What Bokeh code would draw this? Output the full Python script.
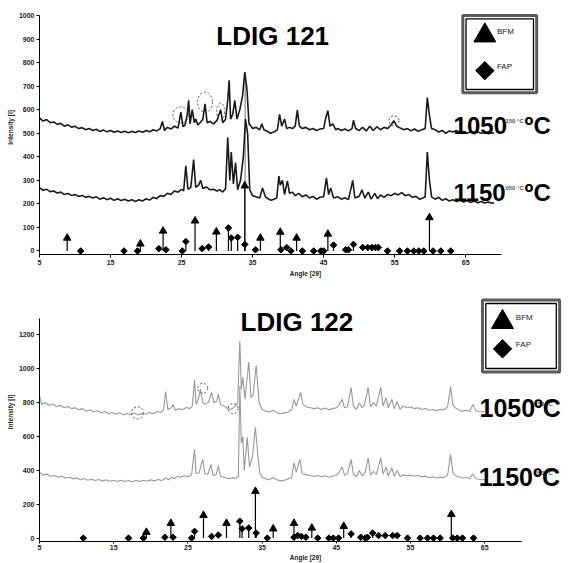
import math
from bokeh.plotting import figure
from bokeh.layouts import column
from bokeh.models import FixedTicker, Label
from bokeh.embed import file_html
from bokeh.resources import INLINE

# ---------------- data ----------------
x_tick_vals = [5, 15, 25, 35, 45, 55, 65]
y_ticks_121 = [0, 100, 200, 300, 400, 500, 600, 700, 800, 900, 1000]
y_ticks_122 = [0, 200, 400, 600, 800, 1000, 1200]

# LDIG 121, 1050 C pattern
t1050_x = [5.0, 5.5, 6.0, 6.5, 7.0, 7.5, 8.0, 8.5, 9.0, 9.5, 10.0, 10.5, 11.0, 11.5, 12.0, 12.5, 13.0, 13.5, 14.0, 14.5,
           15.0, 15.5, 16.0, 16.5, 17.0, 17.5, 18.0, 18.5, 19.0, 19.5, 20.0, 20.5, 21.0, 21.5, 22.0, 22.3, 22.6, 23.0, 23.5, 24.0,
           24.5, 24.9, 25.2, 25.5, 25.8, 26.0, 26.2, 26.5, 26.8, 27.0, 27.3, 27.6, 28.0, 28.3, 28.6, 29.0, 29.5, 30.0, 30.5, 30.8,
           31.2, 31.5, 31.7, 31.9, 32.2, 32.5, 32.8, 33.2, 33.6, 33.9, 34.2, 34.5, 35.0, 35.5, 36.0, 36.3, 36.6, 37.0, 37.5, 38.0,
           38.5, 38.8, 39.1, 39.5, 39.8, 40.2, 40.6, 41.0, 41.3, 41.6, 42.0, 42.5, 43.0, 43.5, 44.0, 44.5, 45.0, 45.3, 45.6, 45.9,
           46.3, 46.7, 47.0, 47.5, 48.0, 48.5, 49.0, 49.2, 49.5, 50.0, 50.5, 51.0, 51.5, 52.0, 52.5, 53.0, 53.5, 54.0, 54.5, 54.9,
           55.3, 55.8, 56.3, 56.8, 57.3, 57.8, 58.3, 58.8, 59.3, 59.6, 59.9, 60.2, 60.7, 61.2, 61.7, 62.2, 62.7, 63.2, 63.7, 64.2,
           64.7, 65.2, 65.7, 66.2, 66.7, 67.2, 67.7, 68.2, 68.7, 69.0]
t1050_y = [565, 552, 558, 545, 548, 538, 542, 530, 536, 526, 530, 520, 524, 515, 520, 512, 517, 508, 514, 506,
           512, 504, 510, 503, 509, 502, 508, 503, 510, 504, 512, 506, 515, 510, 520, 550, 512, 525, 518, 530,
           522, 590, 528, 535, 580, 640, 540, 600, 545, 560, 535, 545, 560, 625, 545, 550, 540, 555, 600, 545,
           560, 640, 725, 560, 580, 640, 560, 600, 660, 760, 690, 540, 520, 525, 515, 540, 515, 510, 500, 505,
           515, 580, 530, 560, 520, 525, 520, 530, 598, 530, 520, 525, 515, 520, 512, 518, 520, 565, 596, 530,
           540, 515, 520, 512, 518, 510, 520, 555, 520, 512, 525, 510, 530, 512, 528, 515, 525, 520, 535, 553,
           530, 522, 515, 520, 510, 518, 508, 515, 520, 652, 575, 520, 515, 505, 512, 500, 510, 505, 512, 502,
           508, 500, 506, 498, 505, 500, 503, 498, 502, 500]

# LDIG 121, 1150 C pattern
t1150_x = [5.0, 5.5, 6.0, 6.5, 7.0, 7.5, 8.0, 8.5, 9.0, 9.5, 10.0, 10.5, 11.0, 11.5, 12.0, 12.5, 13.0, 13.5, 14.0, 14.5,
           15.0, 15.5, 16.0, 16.5, 17.0, 17.5, 18.0, 18.5, 19.0, 19.5, 20.0, 20.5, 21.0, 21.5, 22.0, 22.5, 23.0, 23.5, 24.0, 24.5,
           25.0, 25.3, 25.6, 25.9, 26.3, 26.7, 27.0, 27.4, 27.7, 28.0, 28.5, 29.0, 29.5, 30.0, 30.4, 30.8, 31.2, 31.5, 31.8, 32.0,
           32.3, 32.6, 32.9, 33.3, 33.7, 34.0, 34.3, 34.6, 35.0, 35.5, 36.0, 36.4, 36.8, 37.2, 37.6, 38.0, 38.4, 38.7, 38.9, 39.2,
           39.5, 39.9, 40.2, 40.6, 41.0, 41.5, 42.0, 42.5, 43.0, 43.5, 44.0, 44.5, 45.0, 45.4, 45.7, 46.0, 46.4, 47.0, 47.5, 48.0,
           48.5, 49.1, 49.4, 50.0, 50.4, 50.8, 51.3, 51.7, 52.2, 52.6, 53.0, 53.5, 54.0, 54.5, 55.0, 55.5, 56.0, 56.5, 57.0, 57.5,
           58.0, 58.5, 59.0, 59.3, 59.6, 59.9, 60.2, 60.7, 61.2, 61.7, 62.2, 62.7, 63.2, 63.7, 64.2, 64.7, 65.2, 65.7, 66.2, 66.7,
           67.2, 67.7, 68.2, 68.7, 69.0]
t1150_y = [268, 258, 262, 252, 255, 246, 250, 240, 244, 236, 240, 232, 236, 228, 232, 225, 230, 220, 226, 218,
           224, 215, 222, 214, 220, 212, 218, 210, 218, 212, 222, 216, 228, 222, 235, 232, 245, 240, 255, 250,
           262, 255, 362, 262, 270, 388, 270, 280, 300, 265, 272, 260, 262, 255, 260, 250, 265, 482, 300, 420,
           285, 375, 260, 300, 400, 560, 500, 260, 235, 230, 225, 268, 230, 222, 215, 220, 225, 318, 280, 300,
           240, 298, 245, 250, 235, 245, 230, 238, 225, 232, 220, 228, 230, 310, 240, 268, 225, 230, 220, 226,
           218, 300, 225, 232, 260, 225, 250, 220, 245, 222, 238, 228, 240, 235, 245, 238, 248, 235, 240, 228,
           232, 220, 225, 230, 420, 300, 230, 220, 228, 215, 222, 212, 218, 210, 215, 208, 214, 206, 212, 205,
           210, 204, 208, 203, 205]

# LDIG 121 reference sticks
bfm_121_x = [8.9, 19.2, 22.4, 26.9, 29.9, 33.9, 36.1, 38.9, 41.2, 45.6, 59.9]
bfm_121_h = [55, 30, 85, 128, 81, 277, 55, 80, 55, 72, 142]
fap_121_x = [10.8, 16.9, 18.8, 21.8, 22.8, 25.1, 25.6, 27.9, 28.8, 31.6, 32.0, 32.9, 33.9, 35.4, 39.0, 39.8, 40.4,
             42.0, 43.6, 44.6, 45.0, 46.4, 48.1, 48.5, 49.2, 50.5, 51.2, 51.8, 52.3, 52.7, 54.0, 55.7, 56.8, 57.7,
             58.4, 59.1, 60.4, 61.5, 62.9]
fap_121_h = [0, 0, 0, 10, 5, 0, 40, 10, 17, 98, 55, 58, 28, 5, 5, 15, 0,
             0, 0, 0, 0, 25, 5, 5, 28, 15, 15, 15, 15, 15, 0, 0, 0, 0,
             0, 0, 0, 0, 0]
spike_121_x = [33.95]
spike_121_top = [757]
circled_121_x = [24.9, 28.3, 30.5, 54.9]
circled_121_y = [578, 632, 592, 553]

# LDIG 122, 1050 C pattern
b1050_x = [5.0, 5.3, 5.8, 6.3, 6.8, 7.3, 7.8, 8.3, 8.8, 9.3, 9.8, 10.3, 10.8, 11.3, 11.8, 12.3, 12.8, 13.3, 13.8, 14.3,
           14.8, 15.3, 15.8, 16.3, 16.8, 17.3, 17.8, 18.3, 18.8, 19.3, 19.8, 20.3, 20.8, 21.3, 21.7, 22.0, 22.3, 22.8, 23.0, 23.3,
           23.8, 24.3, 24.8, 25.2, 25.6, 25.9, 26.1, 26.4, 26.7, 27.0, 27.4, 27.8, 28.2, 28.5, 28.9, 29.1, 29.4, 29.8, 30.2, 30.6,
           31.0, 31.4, 31.7, 32.0, 32.2, 32.4, 32.7, 33.2, 33.5, 33.8, 34.2, 34.6, 35.0, 35.5, 36.0, 36.5, 37.0, 37.5, 38.0, 38.5,
           39.0, 39.3, 39.6, 40.2, 40.5, 41.0, 41.5, 42.0, 42.5, 43.0, 43.5, 44.0, 44.5, 45.0, 45.4, 45.8, 46.1, 46.5, 47.0, 47.3,
           47.7, 48.1, 48.5, 48.8, 49.3, 49.6, 50.0, 50.4, 51.0, 51.3, 51.7, 52.0, 52.5, 52.8, 53.2, 53.6, 54.0, 54.5, 55.0, 55.5,
           56.0, 56.5, 57.0, 57.5, 58.0, 58.5, 59.0, 59.5, 60.0, 60.4, 60.7, 61.0, 61.5, 62.0, 62.5, 63.0, 63.4, 63.8, 64.2, 64.7,
           65.0]
b1050_y = [840, 790, 800, 785, 792, 778, 785, 770, 778, 765, 770, 758, 765, 750, 758, 745, 752, 740, 748, 735,
           742, 732, 740, 728, 736, 730, 738, 728, 736, 732, 742, 735, 748, 742, 755, 865, 760, 770, 790, 755,
           765, 758, 772, 765, 780, 935, 790, 820, 880, 800, 790, 805, 860, 800, 810, 850, 790, 780, 770, 760,
           765, 780, 800, 1165, 880, 950, 820, 1040, 830, 850, 1020, 800, 760, 750, 745, 755, 740, 735, 740, 745,
           760, 820, 780, 860, 790, 775, 770, 765, 770, 760, 768, 758, 765, 770, 790, 820, 770, 775, 890, 780,
           760, 800, 770, 790, 890, 775, 800, 780, 890, 780, 830, 770, 820, 765, 805, 760, 780, 770, 775, 765,
           770, 760, 765, 755, 760, 752, 760, 758, 775, 895, 790, 770, 758, 750, 755, 748, 790, 752, 748, 745,
           748]

# LDIG 122, 1150 C pattern
b1150_x = [5.0, 5.5, 6.0, 6.5, 7.0, 7.5, 8.0, 8.5, 9.0, 9.5, 10.0, 10.5, 11.0, 11.5, 12.0, 12.5, 13.0, 13.5, 14.0, 14.5,
           15.0, 15.5, 16.0, 16.5, 17.0, 17.5, 18.0, 18.5, 19.0, 19.5, 20.0, 20.5, 21.0, 21.5, 22.0, 22.4, 22.8, 23.2, 23.6, 24.0,
           24.5, 25.0, 25.5, 25.9, 26.1, 26.5, 27.0, 27.3, 27.7, 28.1, 28.4, 28.8, 29.1, 29.4, 29.8, 30.2, 30.6, 31.0, 31.4, 31.8,
           32.0, 32.2, 32.4, 32.6, 33.0, 33.3, 33.7, 34.1, 34.4, 34.7, 35.0, 35.5, 36.0, 36.5, 37.0, 37.5, 38.0, 38.5, 39.0, 39.3,
           39.6, 40.1, 40.4, 41.0, 41.5, 42.0, 42.5, 43.0, 43.5, 44.0, 44.5, 45.0, 45.4, 45.8, 46.1, 46.5, 47.0, 47.3, 47.7, 48.1,
           48.5, 48.9, 49.3, 49.6, 50.0, 50.4, 51.0, 51.3, 51.7, 52.0, 52.5, 52.8, 53.2, 53.6, 54.0, 54.5, 55.0, 55.5, 56.0, 56.5,
           57.0, 57.5, 58.0, 58.5, 59.0, 59.5, 60.0, 60.4, 60.7, 61.0, 61.5, 62.0, 62.5, 63.0, 63.4, 63.8, 64.2, 64.7, 65.0]
b1150_y = [390, 372, 378, 365, 370, 360, 365, 355, 360, 350, 356, 345, 352, 342, 348, 340, 346, 338, 344, 336,
           342, 335, 342, 334, 340, 333, 340, 335, 342, 336, 344, 338, 346, 340, 355, 345, 360, 352, 365, 360,
           368, 362, 375, 525, 380, 385, 465, 380, 378, 435, 370, 375, 425, 365, 360, 355, 350, 358, 352, 365,
           900, 560, 600, 400, 595, 420, 480, 655, 500, 380, 360, 350, 345, 358, 345, 338, 342, 350, 360, 445,
           390, 465, 380, 375, 368, 365, 370, 362, 368, 360, 366, 370, 390, 420, 372, 380, 465, 380, 362, 400,
           368, 390, 475, 372, 395, 375, 475, 378, 420, 368, 415, 365, 400, 362, 375, 368, 372, 365, 370, 362,
           366, 358, 362, 355, 360, 358, 372, 495, 390, 370, 362, 355, 358, 352, 380, 352, 348, 345, 346]

# LDIG 122 reference sticks
bfm_122_x = [19.4, 22.7, 27.1, 30.2, 34.1, 36.5, 39.3, 41.7, 46.0, 60.5]
bfm_122_h = [35, 88, 135, 88, 277, 55, 88, 60, 70, 140]
fap_122_x = [10.9, 17.0, 19.0, 21.9, 23.0, 25.5, 25.9, 28.2, 29.1, 32.0, 32.3, 33.2, 34.2, 35.7, 39.3, 39.8, 40.3,
             40.9, 42.5, 44.0, 44.6, 45.3, 47.0, 48.3, 48.9, 49.2, 49.9, 50.7, 51.6, 52.6, 53.2, 54.6, 56.3, 57.3,
             58.1, 59.0, 60.7, 61.3, 62.0, 63.5]
fap_122_h = [0, 0, 0, 5, 5, 0, 40, 10, 18, 100, 55, 60, 30, 0, 5, 15, 10,
             5, 0, 0, 0, 0, 25, 5, 0, 5, 30, 15, 15, 15, 15, 0, 0, 0,
             0, 0, 0, 0, 0, 0]
circled_122_x = [18.2, 27.0, 31.1]
circled_122_y = [740, 885, 765]

legend_labels = ["BFM", "FAP"]

FONT = "Liberation Sans"


def base_fig(height, x_end, y_start, y_end, y_top, y_ticks, border_top, border_bottom, tick_out, standoff):
    p = figure(width=571, height=height, x_range=(5, x_end), y_range=(y_start, y_end),
               output_backend="svg", toolbar_location=None,
               min_border_left=39, min_border_right=0,
               min_border_top=border_top, min_border_bottom=border_bottom)
    p.grid.visible = False
    p.outline_line_color = None
    p.background_fill_color = "white"
    p.border_fill_color = "white"
    p.xaxis.bounds = (5, 70)
    p.yaxis.bounds = (y_start, y_top)
    p.xaxis.ticker = FixedTicker(ticks=x_tick_vals, minor_ticks=[])
    p.yaxis.ticker = FixedTicker(ticks=y_ticks, minor_ticks=[])
    for ax in (p.xaxis[0], p.yaxis[0]):
        ax.major_label_text_font = FONT
        ax.major_label_text_font_size = "7px"
        ax.major_label_text_font_style = "bold"
        ax.major_label_text_color = "#222222"
        ax.axis_label_text_font = FONT
        ax.axis_label_text_font_size = "6.5px"
        ax.axis_label_text_font_style = "bold"
        ax.axis_label_text_color = "#222222"
        ax.major_tick_out = 3
        ax.major_tick_in = 0
        ax.minor_tick_out = 0
        ax.minor_tick_in = 0
        ax.axis_line_color = "black"
        ax.major_tick_line_color = "black"
        ax.major_label_standoff = 2
        ax.axis_label_standoff = 2
    p.xaxis.major_tick_out = tick_out
    p.xaxis.major_label_standoff = standoff
    p.xaxis.axis_label_standoff = standoff
    p.xaxis.axis_label = "Angle [2θ]"
    p.yaxis.axis_label = "Intensity [I]"
    return p


def add_sticks(p, bx, bh, fx, fh):
    p.segment(x0=bx, y0=[0] * len(bx), x1=bx, y1=bh, line_color="black", line_width=1.2)
    fxs = [x for x, h in zip(fx, fh) if h > 0]
    fhs = [h for h in fh if h > 0]
    p.segment(x0=fxs, y0=[0] * len(fxs), x1=fxs, y1=fhs, line_color="black", line_width=1.2)
    p.scatter(x=bx, y=bh, marker="triangle", size=7.5, fill_color="black", line_color="black")
    p.scatter(x=fx, y=fh, marker="square", angle=math.pi / 4, size=4.6, fill_color="black", line_color="black")


def add_legend(p, x0, x1, y0, y1, dx, dy, mx, tx, y_b, y_f):
    p.quad(left=[x0], right=[x1], bottom=[y0], top=[y1], fill_color="white",
           line_color="#5a5a5a", line_width=3)
    p.quad(left=[x0 + dx], right=[x1 - dx], bottom=[y0 + dy], top=[y1 - dy], fill_alpha=0,
           line_color="black", line_width=1.3)
    p.scatter(x=[mx], y=[y_b], marker="triangle", size=22, fill_color="black", line_color="black")
    p.scatter(x=[mx], y=[y_f], marker="square", angle=math.pi / 4, size=13, fill_color="black", line_color="black")
    for lab, yy in zip(legend_labels, [y_b, y_f]):
        p.add_layout(Label(x=tx, y=yy, text=lab, text_font=FONT, text_font_size="8px",
                           text_color="#222222", text_baseline="bottom"))


def add_temp(p, x_num, x_unit, x_tiny, y, y_tiny, num, tiny, size):
    p.add_layout(Label(x=x_num, y=y, text=num, text_font=FONT, text_font_size=size,
                       text_font_style="bold", text_color="black", text_baseline="alphabetic"))
    p.add_layout(Label(x=x_tiny, y=y_tiny, text=tiny, text_font=FONT, text_font_size="6px",
                       text_font_style="bold", text_color="#555555", text_baseline="alphabetic"))
    p.add_layout(Label(x=x_unit, y=y, text="ºC", text_font=FONT, text_font_size=size,
                       text_font_style="bold", text_color="black", text_baseline="alphabetic"))


# ---------------- LDIG 121 ----------------
p1 = base_fig(280, 79.9, -15, 1064, 1000, y_ticks_121, 0, 26, 3, 2)
p1.segment(x0=spike_121_x, y0=[0], x1=spike_121_x, y1=spike_121_top, line_color="#777777", line_width=1)
p1.line(t1050_x, t1050_y, line_color="#1a1a1a", line_width=1.6)
p1.line(t1150_x, t1150_y, line_color="#1a1a1a", line_width=1.6)
add_sticks(p1, bfm_121_x, bfm_121_h, fap_121_x, fap_121_h)
p1.ellipse(x=circled_121_x, y=circled_121_y, width=[16, 15, 8, 10], height=[16, 20, 17, 10],
           width_units="screen", height_units="screen", fill_alpha=0,
           line_color="#555555", line_dash="2 2", line_width=1)
add_legend(p1, 64.6, 75.0, 672, 1000, 0.45, 14, 67.7, 69.4, 915, 766)
p1.add_layout(Label(x=29.9, y=914, text="LDIG 121", text_font=FONT, text_font_size="26px",
                    text_font_style="bold", text_color="black", text_baseline="alphabetic"))
add_temp(p1, 63.3, 73.3, 70.6, 532, 554, "1050", "150 °C", "24px")
add_temp(p1, 63.3, 73.3, 70.6, 247, 269, "1150", "050 °C", "24px")

# ---------------- LDIG 122 ----------------
p2 = base_fig(283, 76.7, -20, 1510, 1300, y_ticks_122, 2, 21, 2, 1)
p2.line(b1050_x, b1050_y, line_color="#999999", line_width=1.1)
p2.line(b1150_x, b1150_y, line_color="#999999", line_width=1.1)
add_sticks(p2, bfm_122_x, bfm_122_h, fap_122_x, fap_122_h)
p2.ellipse(x=circled_122_x, y=circled_122_y, width=[12, 10, 10], height=[12, 10, 10],
           width_units="screen", height_units="screen", fill_alpha=0,
           line_color="#555555", line_dash="2 2", line_width=1)
add_legend(p2, 64.7, 75.1, 982, 1406, 0.45, 20, 67.4, 69.2, 1276, 1118)
p2.add_layout(Label(x=32.1, y=1277, text="LDIG 122", text_font=FONT, text_font_size="26px",
                    text_font_style="bold", text_color="black", text_baseline="alphabetic"))
add_temp(p2, 64.3, 71.6, 71.7, 767, 795, "1050", "150 °C", "25px")
add_temp(p2, 64.2, 71.5, 71.7, 361, 385, "1150", "050 °C", "25px")

layout = column(p1, p2)
open("out.html", "w").write(file_html(layout, INLINE))
